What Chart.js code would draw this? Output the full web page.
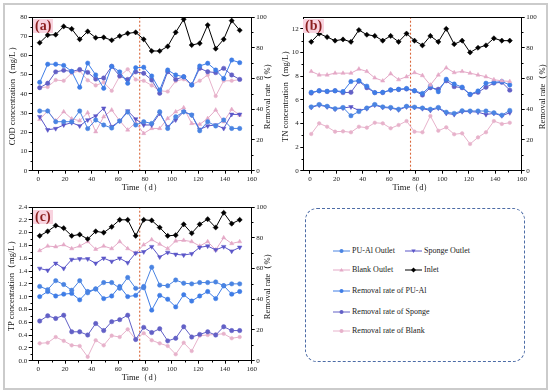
<!DOCTYPE html>
<html><head><meta charset="utf-8">
<script src="https://cdn.jsdelivr.net/npm/chart.js@4"></script>
<style>
html,body{margin:0;padding:0;background:#fff;}
#root{position:relative;width:550px;height:392px;overflow:hidden;font-family:"Liberation Serif","Times New Roman",serif;}
.frame{position:absolute;left:3px;top:3px;width:541px;height:383px;border:2px solid #cbcbcb;}
canvas{position:absolute;}
.plabel{position:absolute;font-weight:bold;font-size:14px;line-height:14px;color:#8b1f1f;background:#f8d3df;padding:0 2px;}
.legend{position:absolute;left:305px;top:208px;width:220px;height:154px;border:1px dashed #4d6ca6;border-radius:12px;box-sizing:border-box;}
.li{position:absolute;height:10px;font-size:8px;line-height:10px;color:#222;white-space:nowrap;}
.li svg{position:absolute;left:0;top:1px;}
.li span{position:absolute;left:19px;top:0;}
</style></head>
<body><div id="root">
<div class="frame"></div>
<canvas id="ca" width="278" height="192" style="left:0;top:0"></canvas>
<canvas id="cb" width="278" height="192" style="left:272px;top:0"></canvas>
<canvas id="cc" width="278" height="192" style="left:0;top:190px"></canvas>
<div class="plabel" style="left:33px;top:19px">(a)</div>
<div class="plabel" style="left:303px;top:19px">(b)</div>
<div class="plabel" style="left:33px;top:210px">(c)</div>
<div class="legend"></div>
<div id="leg"></div>
</div>
<script>
// ---------- data ----------
const days = [1,7,13,19,25,31,37,43,49,55,61,67,73,79,85,91,97,103,109,115,121,127,133,139,145,151];
const splitDay = 76;
const xTickValues = [0,20,40,60,80,100,120,140,160];
const rightTickValues = [0,20,40,60,80,100];

// (a) COD
const codTicks = [0,10,20,30,40,50,60,70,80];
const codInlet = [66.6,70.6,70.8,75.1,73.8,68.4,72.5,69.2,69.4,67.9,70.1,71.5,72.0,68.4,62.3,62.3,64.7,72.0,78.8,65.4,66.3,75.8,63.5,68.4,78.1,73.1];
const codPUAlOut = [31.1,31.1,25.5,25.5,25.5,31.1,21.9,26.4,23.8,22.2,25.9,30.5,23.8,25.5,24.6,30.7,22.0,28.1,30.7,29.0,20.8,25.5,23.3,26.4,22.0,22.0];
const codSpongeOut = [28.1,21.3,21.9,23.8,25.0,23.3,26.4,28.5,32.5,22.9,25.9,31.1,26.9,23.8,23.8,29.8,22.9,26.4,30.7,29.0,21.5,23.3,23.8,22.0,29.3,29.3];
const codBlankOut = [26.7,31.1,26.0,30.7,27.0,26.0,30.2,20.3,28.1,31.6,26.0,21.2,25.0,19.4,22.0,22.0,27.2,30.7,32.8,24.6,24.1,27.2,31.6,25.5,31.9,29.0];
const codRemPUAl = [57.5,69.3,69.3,68.5,64.6,54.3,70.0,62.3,53.6,67.9,64.3,56.9,67.0,67.3,61.6,52.5,65.5,62.3,61.1,55.8,68.1,69.9,65.5,60.0,72.0,70.3];
const codRemSponge = [54.0,56.9,64.3,65.3,64.6,65.8,64.0,59.6,60.3,67.9,61.6,59.4,64.3,63.4,59.0,50.4,64.4,59.4,61.1,55.8,66.6,64.4,63.8,66.6,62.3,59.4];
const codRemBlank = [54.0,54.5,59.0,58.5,63.5,65.0,58.8,55.5,57.5,52.0,61.5,66.0,59.3,58.5,55.5,52.0,51.5,58.3,59.5,56.0,58.5,62.3,48.6,58.5,58.5,59.3];

// (b) TN
const tnTicks = [0,2,4,6,8,10,12];
const tnInlet = [10.9,11.6,11.3,11.0,11.1,10.9,11.9,11.5,11.4,11.0,11.4,10.9,11.6,11.0,10.6,11.4,10.9,12.0,10.7,11.0,10.0,10.4,10.6,11.2,11.0,11.0];
const tnPUAlOut = [5.4,5.6,5.45,5.25,5.35,4.65,5.0,5.3,5.6,5.4,5.35,5.2,5.45,5.38,5.3,5.2,5.35,4.95,4.85,5.07,5.05,5.05,5.05,4.9,4.7,5.1];
const tnSpongeOut = [5.35,5.55,5.4,5.2,5.3,5.4,5.1,5.25,5.55,5.35,5.3,5.15,5.4,5.35,5.25,5.1,5.3,4.85,4.75,5.0,5.0,4.95,4.75,4.85,4.65,4.9];
const tnBlankOut = [8.4,8.1,8.1,8.25,8.25,8.25,8.6,8.4,7.85,7.6,8.2,7.7,7.95,8.3,8.05,7.25,8.1,8.7,8.3,8.4,8.25,8.1,7.95,7.7,7.6,7.55];
const tnRemPUAl = [51.0,52.0,51.7,52.0,51.5,58.0,58.6,55.0,50.8,51.0,52.5,53.0,53.5,52.0,50.3,55.0,51.4,59.5,56.4,54.4,49.7,51.9,56.9,57.5,58.0,55.8];
const tnRemSponge = [50.5,52.0,51.5,52.0,50.8,51.0,58.2,54.0,50.8,50.8,52.5,52.8,53.2,52.0,49.2,54.0,53.0,58.5,54.7,54.0,49.5,51.0,54.3,57.0,57.5,52.4];
const tnRemBlank = [23.9,30.8,28.6,25.4,25.6,25.0,28.6,28.0,31.2,30.8,27.6,29.7,32.3,25.4,25.0,35.6,26.0,28.2,23.7,24.3,17.4,21.7,25.0,32.3,30.4,31.2];

// (c) TP
const tpTicks = [0,0.2,0.4,0.6,0.8,1.0,1.2,1.4,1.6,1.8,2.0,2.2,2.4];
const tpInlet = [1.95,2.02,2.11,2.07,1.95,1.97,1.90,2.02,2.00,2.09,2.20,2.20,1.95,2.20,2.19,2.08,1.95,1.96,2.13,1.99,2.13,2.21,2.08,2.31,2.14,2.20];
const tpPUAlOut = [1.16,1.11,1.25,1.19,1.10,1.25,1.06,1.12,1.22,1.22,1.13,1.30,1.13,1.14,1.46,1.18,1.17,1.26,1.21,1.20,1.22,1.22,1.23,1.17,1.20,1.20];
const tpSpongeOut = [1.44,1.41,1.52,1.44,1.58,1.59,1.59,1.52,1.60,1.55,1.60,1.53,1.68,1.70,1.78,1.62,1.69,1.66,1.65,1.67,1.77,1.79,1.73,1.78,1.71,1.77];
const tpBlankOut = [1.72,1.79,1.78,1.81,1.75,1.79,1.86,1.74,1.79,1.75,1.86,1.75,1.68,1.81,1.89,1.82,1.75,1.87,1.88,1.86,1.79,1.86,1.73,1.92,1.83,1.86];
const tpRemPUAl = [41.7,45.0,42.1,43.3,43.8,39.6,45.0,46.7,40.4,42.1,48.3,41.7,42.5,48.3,32.9,42.5,40.0,35.0,42.9,38.8,42.1,45.0,40.4,48.8,43.3,45.0];
const tpRemSponge = [25.8,29.2,27.5,29.6,18.8,18.8,16.7,24.2,19.6,25.4,26.7,29.6,13.8,21.7,18.3,20.8,12.9,14.6,22.1,15.4,17.1,18.8,16.7,22.1,19.6,19.6];
const tpRemBlank = [11.3,11.7,15.4,12.9,10.0,9.6,2.5,13.3,10.0,16.3,15.4,20.4,13.8,17.9,13.3,11.3,9.6,4.2,11.7,6.3,16.3,16.7,17.1,17.5,14.6,15.4];

const seriesNames = ['PU-Al Outlet','Sponge Outlet','Blank Outlet','Inlet','Removal rate of PU-Al','Removal rate of Sponge','Removal rate of Blank'];

// ---------- style ----------
const FAM = '"Liberation Serif","Times New Roman",serif';
const COL = {pu:'#4a84e2', sp:'#5b56c8', bl:'#e4a9c7', inl:'#000', puR:'#3f7de6', spR:'#6260c6', blR:'#e7b2cb', split:'#d9663a'};

function pts(arr){ return days.map((d,i)=>({x:d,y:arr[i]})); }
function ds(label, arr, axis, color, style, rot, r){
  return {label, data:pts(arr), yAxisID:axis, borderColor:color, backgroundColor:color, borderWidth:1,
    pointStyle:style, pointRotation:rot||0, pointRadius:r||2.2, pointBackgroundColor:color,
    pointBorderColor:color, pointBorderWidth:0.5, tension:0, fill:false};
}

const decor = {
  id:'decor',
  afterDraw(chart, args, o){
    const {ctx, chartArea:ca, scales} = chart;
    ctx.save();
    ctx.strokeStyle='#000'; ctx.lineWidth=1;
    const L=Math.round(ca.left)+0.5, R=Math.round(ca.right)-0.5, T=Math.round(ca.top)+0.5, B=Math.round(ca.bottom)-0.5;
    ctx.strokeRect(L,T,R-L,B-T);
    ctx.beginPath();
    o.xMinor.forEach(v=>{const x=Math.round(scales.x.getPixelForValue(v))+0.5; ctx.moveTo(x,B); ctx.lineTo(x,B+2);});
    o.yMinor.forEach(v=>{const y=Math.round(scales.y.getPixelForValue(v))+0.5; ctx.moveTo(L,y); ctx.lineTo(L-2,y);});
    o.y1Minor.forEach(v=>{const y=Math.round(scales.y1.getPixelForValue(v))+0.5; ctx.moveTo(R,y); ctx.lineTo(R+2,y);});
    ctx.stroke();
    ctx.fillStyle='#111'; ctx.font='8.5px '+FAM; ctx.textAlign='center'; ctx.textBaseline='middle';
    ctx.translate(ca.right+o.rtOffset,(ca.top+ca.bottom)/2); ctx.rotate(-Math.PI/2);
    ctx.fillText(o.rtText,0,0);
    ctx.restore();
  }
};

function panel(id, o){
  const datasets = [
    ds(seriesNames[3], o.inlet, 'y', COL.inl, 'rectRot', 0, 2.6),
    ds(seriesNames[0], o.puOut, 'y', COL.pu, 'circle'),
    ds(seriesNames[1], o.spOut, 'y', COL.sp, 'triangle', 180, 2.6),
    ds(seriesNames[2], o.blOut, 'y', COL.bl, 'triangle', 0, 2.4),
    ds(seriesNames[4], o.puRem, 'y1', COL.puR, 'circle'),
    ds(seriesNames[5], o.spRem, 'y1', COL.spR, 'circle'),
    ds(seriesNames[6], o.blRem, 'y1', COL.blR, 'circle', 0, 1.8),
    {label:'split', data:[{x:splitDay,y:0},{x:splitDay,y:o.leftMax}], yAxisID:'y', borderColor:COL.split,
     borderDash:[2,2], borderWidth:1.1, pointRadius:0, fill:false}
  ];
  const tickFont = {family:FAM, size:7};
  const grid = {display:true, drawOnChartArea:false, drawTicks:true, tickLength:3, color:'#000', lineWidth:1};
  new Chart(document.getElementById(id), {
    type:'line',
    data:{datasets},
    plugins:[decor],
    options:{
      responsive:false, animation:false, devicePixelRatio:1,
      layout:{padding:{top:17,left:0,right:0,bottom:0}},
      plugins:{legend:{display:false}, tooltip:{enabled:false},
        decor:{xMinor:[10,30,50,70,90,110,130,150], yMinor:o.yMinor, y1Minor:[10,30,50,70,90], rtText:'Removal rate（%）', rtOffset:o.rtOffset}},
      scales:{
        x:{type:'linear', min:-5, max:160,
          afterBuildTicks:s=>{s.ticks=xTickValues.map(v=>({value:v}));},
          afterFit:s=>{s.height=21.3;},
          grid, border:{display:false},
          ticks:{font:tickFont, color:'#222', padding:1, maxRotation:0, autoSkip:false},
          title:{display:true, text:'Time（d）', color:'#111', font:{family:FAM,size:8.5,lineHeight:1}, padding:{top:0,bottom:0}}},
        y:{type:'linear', position:'left', min:0, max:o.leftMax,
          afterBuildTicks:s=>{s.ticks=o.leftTicks.map(v=>({value:v}));},
          afterFit:s=>{s.width=o.leftW;},
          grid, border:{display:false},
          ticks:{font:tickFont, color:'#222', padding:1.5, autoSkip:false, callback:o.fmt},
          title:{display:true, text:o.leftTitle, color:'#111', font:{family:FAM,size:8.5,lineHeight:1}, padding:{top:o.ltPad,bottom:0}}},
        y1:{type:'linear', position:'right', min:0, max:100,
          afterBuildTicks:s=>{s.ticks=rightTickValues.map(v=>({value:v}));},
          afterFit:s=>{s.width=o.rightW;},
          grid, border:{display:false},
          ticks:{font:tickFont, color:'#222', padding:1.5, autoSkip:false},
          title:{display:false}}
      }
    }
  });
}

panel('ca', {inlet:codInlet, puOut:codPUAlOut, spOut:codSpongeOut, blOut:codBlankOut,
  puRem:codRemPUAl, spRem:codRemSponge, blRem:codRemBlank, leftMax:80, leftTicks:codTicks,
  yMinor:[5,15,25,35,45,55,65,75], leftTitle:'COD concentration（mg/L）', leftW:31.7, rightW:26.3,
  ltPad:9, rtOffset:16, fmt:v=>String(v)});
panel('cb', {inlet:tnInlet, puOut:tnPUAlOut, spOut:tnSpongeOut, blOut:tnBlankOut,
  puRem:tnRemPUAl, spRem:tnRemSponge, blRem:tnRemBlank, leftMax:13, leftTicks:tnTicks,
  yMinor:[1,3,5,7,9,11], leftTitle:'TN concentration（mg/L）', leftW:31.3, rightW:28.3,
  ltPad:10, rtOffset:21, fmt:v=>String(v)});
panel('cc', {inlet:tpInlet, puOut:tpPUAlOut, spOut:tpSpongeOut, blOut:tpBlankOut,
  puRem:tpRemPUAl, spRem:tpRemSponge, blRem:tpRemBlank, leftMax:2.4, leftTicks:tpTicks,
  yMinor:[0.1,0.3,0.5,0.7,0.9,1.1,1.3,1.5,1.7,1.9,2.1,2.3], leftTitle:'TP concentration（mg/L）', leftW:31.7, rightW:26.3,
  ltPad:8, rtOffset:16, fmt:v=>v.toFixed(1)});

// ---------- legend ----------
const legendShapes = ['circle','tdown','tup','diamond','circle','circle','circle'];
const legendColors = [COL.pu, COL.sp, COL.bl, COL.inl, COL.puR, COL.spR, COL.blR];
const legendPos = [[333,251],[405,251],[333,270],[405,270],[333,291],[333,312],[333,331]];
function shapeSvg(shape, c){
  let m;
  if(shape==='circle') m=`<circle cx="8.5" cy="4" r="2" fill="${c}"/>`;
  else if(shape==='tdown') m=`<polygon points="6.3,2.5 10.7,2.5 8.5,6" fill="${c}"/>`;
  else if(shape==='tup') m=`<polygon points="6.3,5.6 10.7,5.6 8.5,2" fill="${c}"/>`;
  else m=`<polygon points="8.5,1.5 11,4 8.5,6.5 6,4" fill="${c}"/>`;
  return `<svg width="17" height="8"><line x1="0" y1="4" x2="17" y2="4" stroke="${c}" stroke-width="1"/>${m}</svg>`;
}
const leg = document.getElementById('leg');
seriesNames.forEach((name,i)=>{
  const d = document.createElement('div');
  d.className='li';
  d.style.left=legendPos[i][0]+'px';
  d.style.top=(legendPos[i][1]-5)+'px';
  d.innerHTML = shapeSvg(legendShapes[i], legendColors[i]) + '<span>'+name+'</span>';
  leg.appendChild(d);
});
</script>
</body></html>
